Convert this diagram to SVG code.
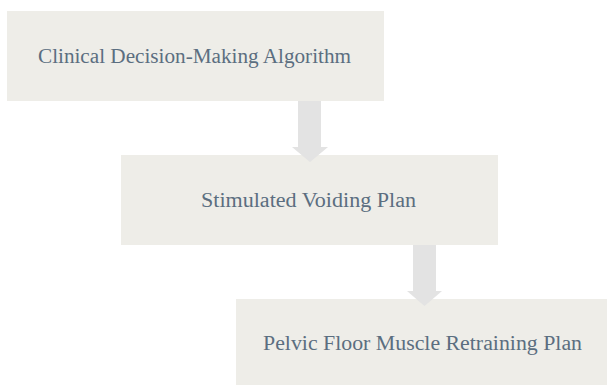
<svg xmlns="http://www.w3.org/2000/svg" width="607" height="385" viewBox="0 0 607 385">
<style>
.box{fill:#eeede8}
.arrow{fill:#e3e3e3}
.lbl{font-family:"Liberation Serif","DejaVu Serif",serif;font-size:20px;fill:#5b6e80;text-anchor:middle}
</style>
<rect width="607" height="385" fill="#ffffff"/>
<g id="node1"><rect class="box" x="7" y="11" width="377" height="90"/><text class="lbl" x="194.5" y="63" textLength="313" lengthAdjust="spacingAndGlyphs">Clinical Decision-Making Algorithm</text></g>
<g id="node2"><rect class="box" x="121" y="155" width="377" height="90"/><text class="lbl" x="308.5" y="207" textLength="215" lengthAdjust="spacingAndGlyphs">Stimulated Voiding Plan</text></g>
<g id="node3"><rect class="box" x="236" y="299" width="377" height="90"/><text class="lbl" x="422.5" y="350" textLength="319" lengthAdjust="spacingAndGlyphs">Pelvic Floor Muscle Retraining Plan</text></g>
<g id="connectors">
<polygon class="arrow" points="298,101 321,101 321,147 328,147 310,162 292,147 298,147"/>
<polygon class="arrow" points="413,245 436,245 436,291 442,291 424.5,306 407,291 413,291"/>
</g>
</svg>
